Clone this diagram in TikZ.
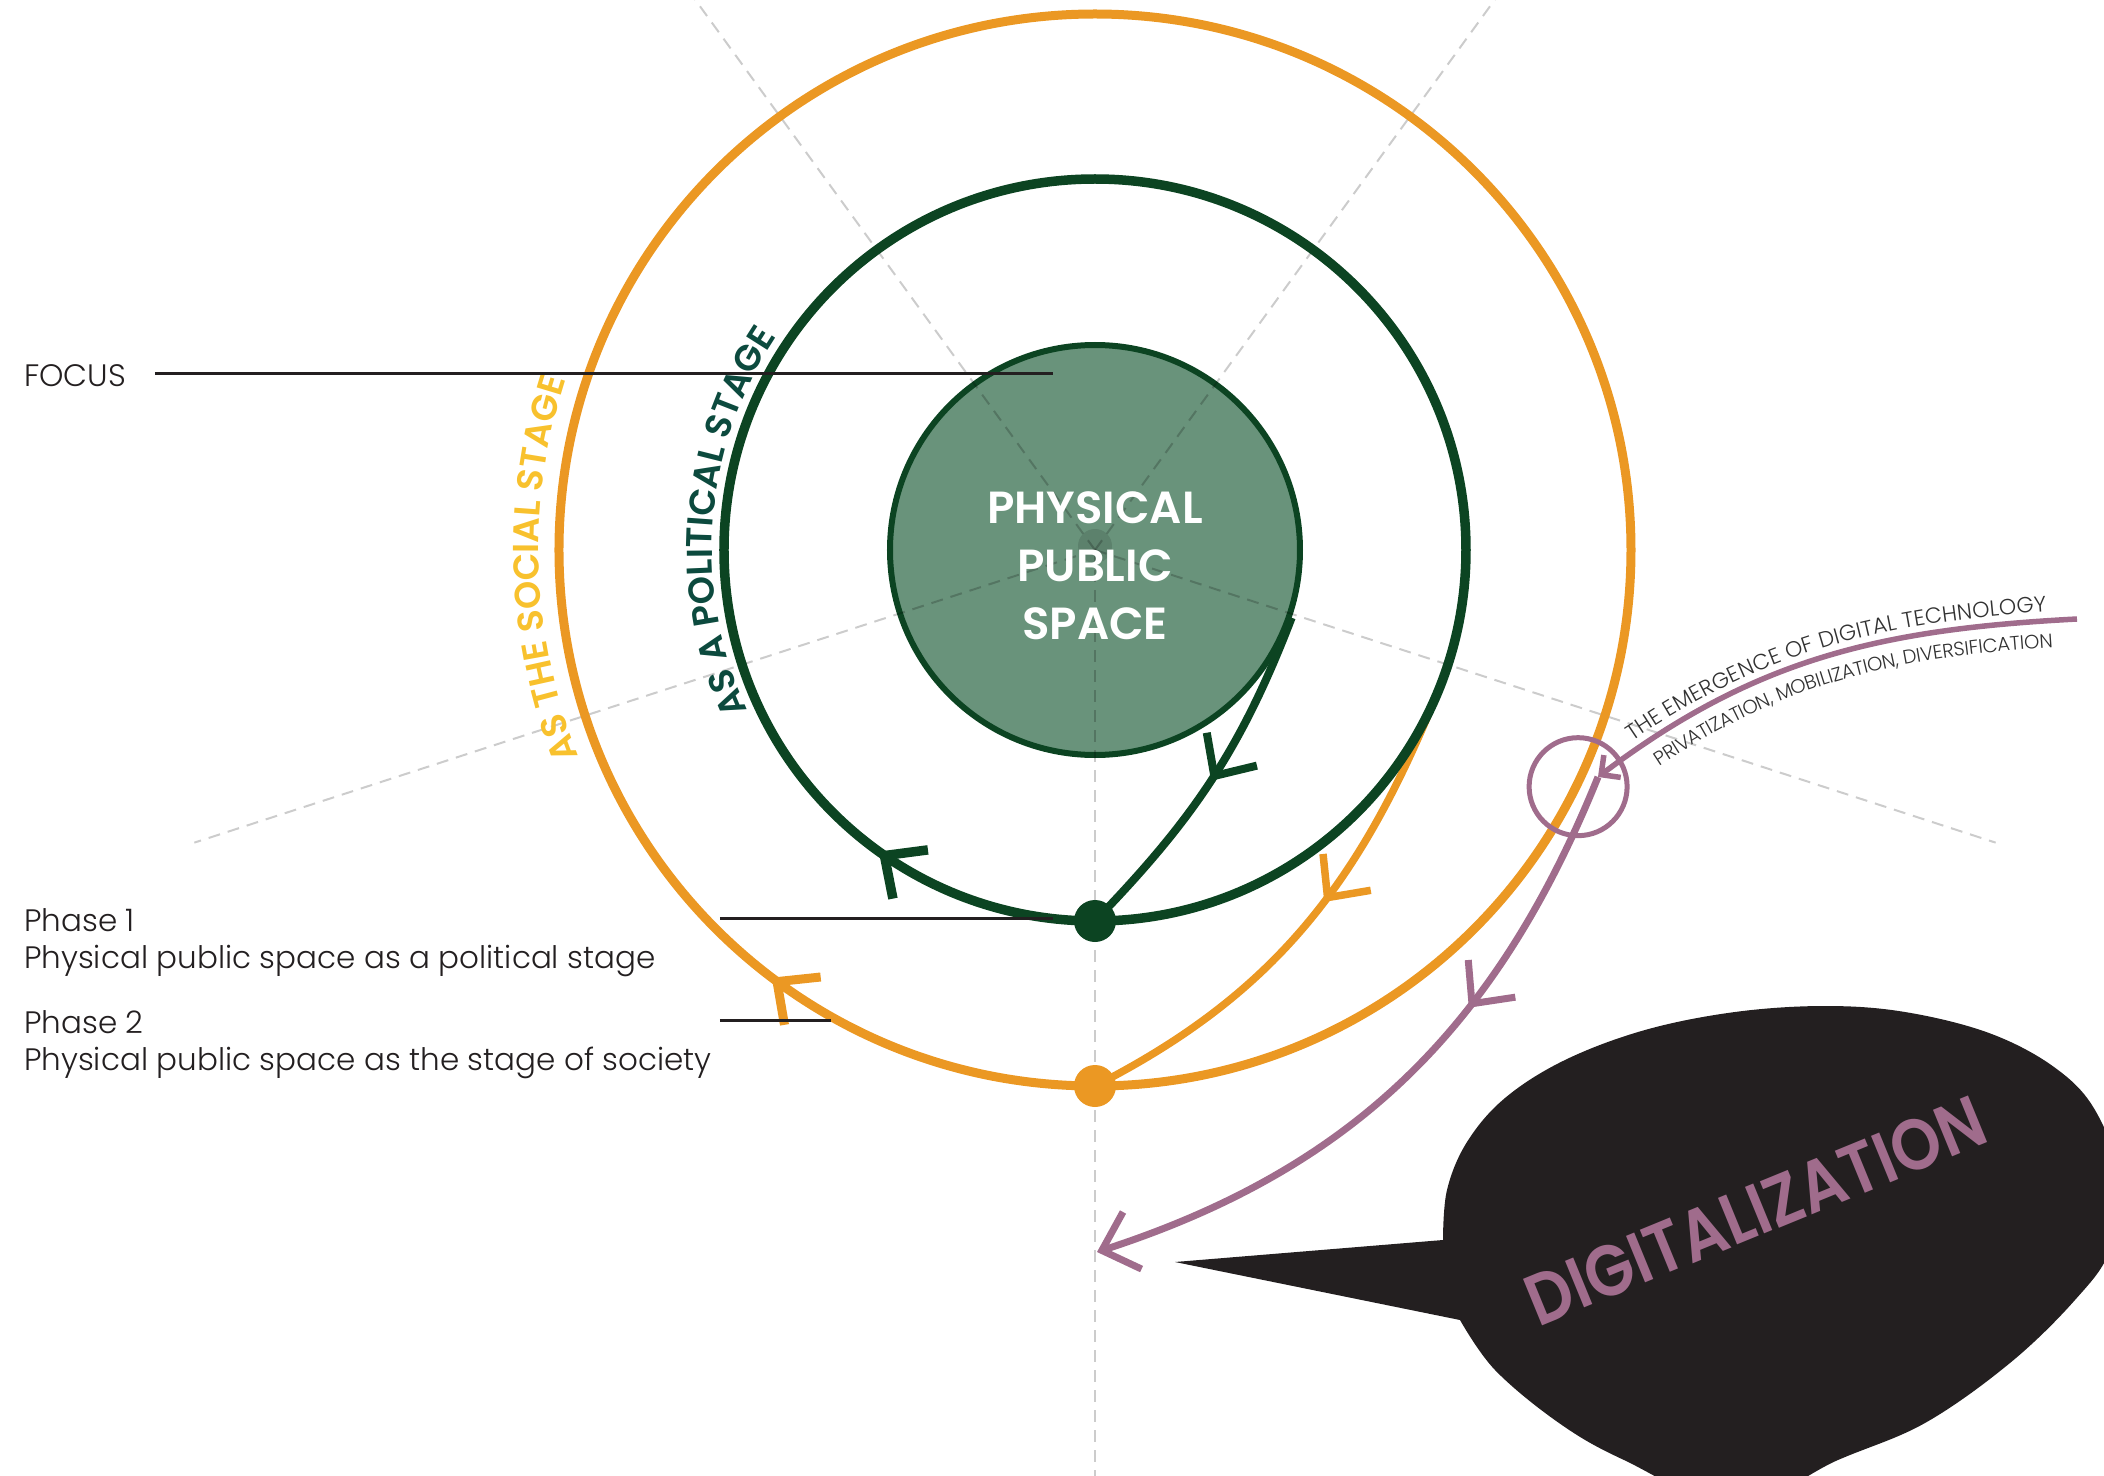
\documentclass[tikz,border=0pt]{standalone}
\usepackage{fontspec}
\setmainfont{Poppins}
\IfFontExistsTF{Poppins SemiBold}{\newfontfamily\semibf{Poppins SemiBold}}{\newcommand\semibf{\bfseries}}
\IfFontExistsTF{Poppins Light}{\newfontfamily\lightf{Poppins Light}}{\newcommand\lightf{}}
\usepackage{xcolor}
\usepackage{tikz}
\usetikzlibrary{arrows.meta}
\usetikzlibrary{decorations.markings,decorations.text}
\usetikzlibrary{positioning,calc}

\definecolor{coregreen}{RGB}{105,147,123}
\definecolor{darkgreen}{RGB}{12,68,34}
\definecolor{ochre}{RGB}{235,152,35}
\definecolor{mauve}{RGB}{160,108,140}
\definecolor{sunyellow}{RGB}{248,193,45}
\definecolor{tealtext}{RGB}{12,74,62}
\definecolor{ink}{RGB}{35,31,32}
\definecolor{textgray}{RGB}{50,50,50}

\newcommand\stagefont{\semibf\fontsize{36}{42}\selectfont}
\newcommand\techfont{\lightf\fontsize{22}{26}\selectfont}
\newcommand\trendfont{\lightf\fontsize{19.5}{23}\selectfont}

\begin{document}
\begin{tikzpicture}[x=1pt, y=1pt,
    guide/.style={black, opacity=0.2, line width=2pt, dash pattern=on 12pt off 8pt},
    ring/.style={line width=9.5pt},
    barb/.tip={Straight Barb[length=32pt, width=60pt]},
    midarrow/.style={postaction={decorate, decoration={markings,
        mark=at position #1 with {\arrow{barb}}}}},
    dot/.style={circle, inner sep=0pt, minimum size=42pt},
    lbl/.style={inner sep=0pt, text=ink, font=\lightf\fontsize{31}{37}\selectfont},
    leader/.style={ink, line width=3pt}]
  % Radii
  \newcommand\rCore{205}      % = physical public space
  \newcommand\rPol{371}       % = political stage
  \newcommand\rSoc{536}       % = social stage

  \useasboundingbox (-1095,-925) rectangle (1009,550);

  % Core
  \node[circle, fill=coregreen, draw=darkgreen, line width=6pt, minimum size=2*\rCore pt, inner sep=0pt] (core) at (0,0) {};
  \foreach \a in {-18,54,126,198,270} {
    \draw[guide] (0,0) -- (\a:947);
  }
  \fill[black, opacity=0.12] (0,4) circle (17);
  \node[text=white, align=center, font=\semibf\fontsize{45}{58}\selectfont] (coretext) at (0,-15.5) {PHYSICAL\\PUBLIC\\SPACE};

  % Rings
  \draw[ochre, line width=7.5pt, midarrow=0.45] (-22:\rPol) to[out=-112, in=27] (0,-\rSoc);
  \draw[ring, ochre, line width=9pt, midarrow=0.103] (0,-\rSoc) arc[start angle=-90, delta angle=-360, radius=\rSoc];
  \draw[ring, darkgreen, midarrow=0.099] (0,-\rPol) arc[start angle=-90, delta angle=-360, radius=\rPol];
  \node[dot, fill=darkgreen] (poldot) at (0,-\rPol) {};
  \node[dot, fill=ochre] (socdot) at (0,-\rSoc) {};
  \draw[darkgreen, line width=8pt, midarrow=0.5] (core.-19) to[out=-111, in=46] (poldot.center);

  % Ring names
  \path[decorate, decoration={text along path, text color=sunyellow,
      text={|\stagefont|AS THE SOCIAL STAGE}, text align=center}]
    (225:556) arc[start angle=225, end angle=139, radius=556];
  \path[decorate, decoration={text along path, text color=tealtext,
      text={|\stagefont|AS A POLITICAL STAGE}, text align=center}]
    (220:383) arc[start angle=220, end angle=131, radius=383];

  % Labels
  \node[lbl, anchor=base west] (focus) at (-1071,163) {FOCUS};
  \coordinate (focusstart) at (-940,176);
  \coordinate (focusend) at (-42,176);
  \draw[leader] (focusstart) -- (focusend);

  \node[lbl, anchor=base west] (phaseone) at (-1071,-381) {Phase 1};
  \node[lbl, anchor=base west] (phaseonetext) at ([yshift=-37pt]phaseone.base west) {Physical public space as a political stage};
  \node[lbl, anchor=base west] (phasetwo) at (-1071,-483) {Phase 2};
  \node[lbl, anchor=base west] (phasetwotext) at ([yshift=-37pt]phasetwo.base west) {Physical public space as the stage of society};
  \coordinate (phaseonestart) at (-375,-368);
  \coordinate (phaseoneend) at (-42,-368);
  \coordinate (phasetwostart) at (-375,-470);
  \coordinate (phasetwoend) at (-264,-470);
  \draw[leader] (phaseonestart) -- (phaseoneend);
  \draw[leader] (phasetwostart) -- (phasetwoend);

  % Digital technology
  \node[circle, draw=mauve, line width=5pt, minimum size=98pt, inner sep=0pt] (techring) at (-26.1:538) {};
  \coordinate (techstart) at (982,-69);
  \coordinate (techtip) at (503,-227);
  \coordinate (digitend) at (2,-702);
  \draw[mauve, line width=5.5pt, -{Straight Barb[length=14pt, width=28pt]}] (techstart) to[out=183, in=37] (techtip);
  \draw[mauve, line width=7pt, midarrow=0.37, -barb] (techtip) to[out=-112, in=18] (digitend);
  \path[decorate, decoration={text along path, text color=textgray, raise=9pt,
      text={|\techfont|THE EMERGENCE OF DIGITAL TECHNOLOGY}, text align={right, right indent=30pt}}]
    (techtip) to[out=37, in=183] (techstart);
  \path[decorate, decoration={text along path, text color=textgray, raise=-27pt,
      text={|\trendfont|PRIVATIZATION, MOBILIZATION, DIVERSIFICATION}, text align={right, right indent=26pt}}]
    (techtip) to[out=37, in=183] (techstart);

  % Bubble
  \coordinate (bubbletip) at (80,-712);
  \fill[ink] (bubbletip) -- plot[smooth, tension=0.6] coordinates {(348,-690) (352,-640) (372,-592) (410,-548) (470,-510) (550,-480) (640,-462) (730,-456) (810,-462) (894,-483) (959,-517) (1000,-560) (1025,-630) (1015,-700) (980,-750) (915,-813) (830,-873) (743,-910) (640,-955) (529,-910) (464,-873) (400,-820) (365,-770)} -- cycle;
  \node[rotate=22.3, anchor=base, inner sep=0pt, text=mauve, font=\semibf\fontsize{72}{72}\selectfont] (digital) at (670,-684) {\scalebox{0.88}[1]{DIGITALIZATION}};

\end{tikzpicture}
\end{document}
